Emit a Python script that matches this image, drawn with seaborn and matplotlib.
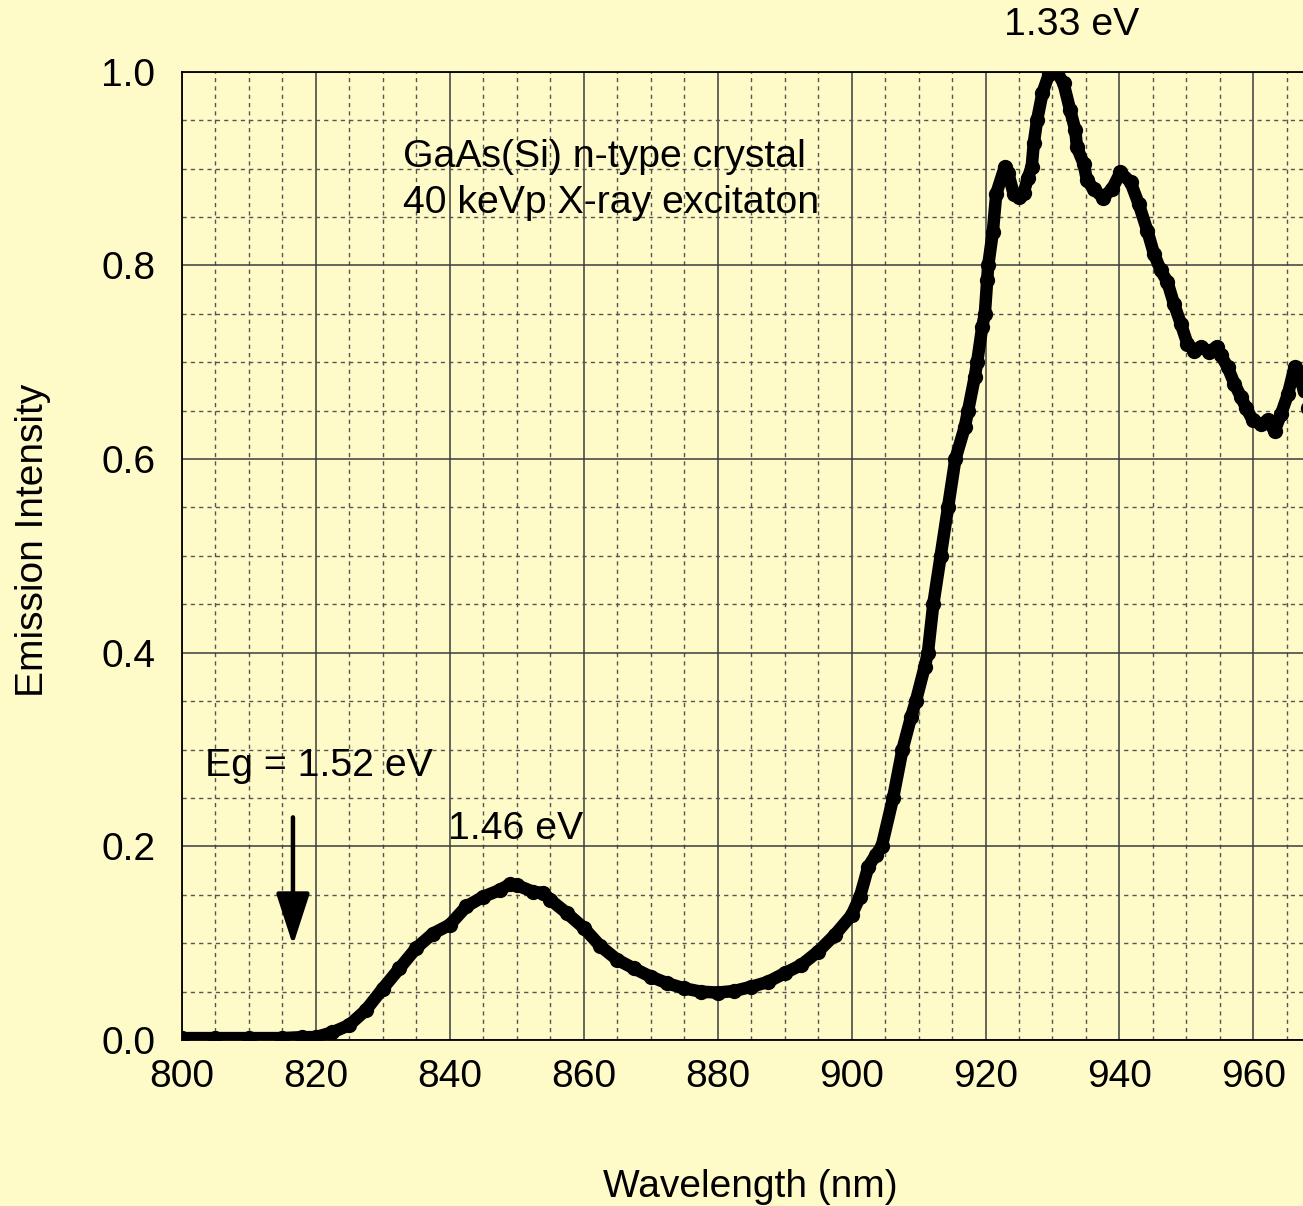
import numpy as np
import pandas as pd
import matplotlib
matplotlib.use("Agg")
import matplotlib.pyplot as plt
from matplotlib.ticker import MultipleLocator
import seaborn as sns

# Emission spectrum of Si-doped n-type GaAs under 40 keVp X-ray excitation
wavelength_nm = [
    800, 805, 810, 815, 818, 820, 822.5, 825, 827.5, 830, 832.5, 835, 837.5,
    840, 842.5, 845, 847.5, 849, 850, 852.5, 854, 855, 857.5, 860, 862.5,
    865, 867.5, 870, 872.5, 875, 877.5, 880, 882.5, 885, 887.5, 890, 892.5,
    895, 897.5, 900, 901.25, 902.5, 903.6, 904.5, 906.2, 907.6, 908.9, 909.6,
    910.9, 911.4, 912.2, 913.3, 914.4, 915.5, 916.9, 917.4, 918.4, 918.75,
    919.5, 919.9, 920.25, 920.4, 921.1, 921.6, 922.9, 923.4, 924.2, 925.0,
    925.7, 926.3, 926.9, 927.2, 927.7, 928.5, 929.5, 930.2, 930.65, 931.65,
    932.65, 933.4, 933.65, 934.65, 935.15, 936.15, 937.55, 938.9, 940.15,
    941.65, 942.9, 944.15, 945.15, 946.15, 947.15, 948.15, 949.15, 950.15,
    951.15, 952.15, 953.4, 954.5, 955.15, 956.15, 957.15, 958.15, 958.9,
    959.9, 961.15, 962.15, 963.15, 964.15, 965.15, 966.15, 967.15, 968.1,
]
intensity = [
    0.002, 0.002, 0.002, 0.002, 0.003, 0.003, 0.008, 0.0155, 0.031, 0.053,
    0.074, 0.095, 0.110, 0.119, 0.138, 0.148, 0.155, 0.161, 0.160, 0.153,
    0.152, 0.145, 0.131, 0.116, 0.097, 0.083, 0.074, 0.0655, 0.0586, 0.0534,
    0.050, 0.049, 0.0507, 0.055, 0.060, 0.069, 0.0776, 0.0914, 0.1086, 0.129,
    0.148, 0.179, 0.191, 0.200, 0.250, 0.300, 0.334, 0.350, 0.385, 0.400,
    0.450, 0.500, 0.550, 0.600, 0.633, 0.650, 0.685, 0.700, 0.736, 0.750,
    0.785, 0.800, 0.835, 0.874, 0.902, 0.895, 0.874, 0.871, 0.875, 0.890,
    0.902, 0.926, 0.950, 0.978, 0.998, 1.000, 1.000, 0.988, 0.960, 0.940,
    0.922, 0.905, 0.888, 0.879, 0.870, 0.879, 0.896, 0.886, 0.863, 0.836,
    0.812, 0.795, 0.783, 0.760, 0.740, 0.719, 0.712, 0.716, 0.711, 0.716,
    0.707, 0.695, 0.678, 0.664, 0.653, 0.640, 0.636, 0.640, 0.629, 0.647,
    0.667, 0.695, 0.681, 0.653,
]

x_ticks = [800, 820, 840, 860, 880, 900, 920, 940, 960]
y_ticks = [0.0, 0.2, 0.4, 0.6, 0.8, 1.0]

spectrum = pd.DataFrame({"Wavelength (nm)": wavelength_nm,
                         "Emission Intensity": intensity})

BG = "#FFFBC8"
sns.set_theme(style="white")
plt.rcParams["font.family"] = ["Liberation Sans", "DejaVu Sans"]
plt.rcParams["figure.facecolor"] = BG
plt.rcParams["axes.facecolor"] = BG

fig = plt.figure(figsize=(13.03, 12.06), dpi=100)
ax = fig.add_axes([0.1395, 0.1376, 0.8605, 0.8029])
ax.set_facecolor(BG)

sns.lineplot(data=spectrum, x="Wavelength (nm)", y="Emission Intensity",
             ax=ax, color="black", linewidth=9, marker="o", markersize=11,
             markeredgewidth=0, estimator=None, sort=False, zorder=5,
             solid_capstyle="round", solid_joinstyle="round")

ax.set_xlim(800, 967.4)
ax.set_ylim(0, 1.0)
ax.set_xticks(x_ticks)
ax.set_yticks(y_ticks)
ax.set_xticklabels([f"{v:d}" for v in x_ticks])
ax.set_yticklabels([f"{v:.1f}" for v in y_ticks])
ax.xaxis.set_minor_locator(MultipleLocator(5))
ax.yaxis.set_minor_locator(MultipleLocator(0.05))

# solid major grid, dashed minor grid
ax.grid(which="major", color="#3c3c3c", linewidth=1.1, linestyle="-", zorder=0)
ax.grid(which="minor", color="#555555", linewidth=1.0, linestyle=(0, (3, 3)),
        zorder=0)
ax.set_axisbelow(True)

ax.tick_params(axis="both", which="major", direction="in", length=13,
               width=1.1, color="black", labelsize=28, labelcolor="black")
ax.tick_params(axis="x", which="major", pad=14)
ax.tick_params(axis="y", which="major", pad=19)
ax.tick_params(axis="both", which="minor", length=0)

for side in ["top", "left", "bottom"]:
    ax.spines[side].set_visible(True)
    ax.spines[side].set_color("black")
    ax.spines[side].set_linewidth(1.3)
ax.spines["right"].set_visible(False)

ax.set_xlabel("Wavelength (nm)", fontsize=28, color="black")
ax.set_ylabel("Emission Intensity", fontsize=28, color="black")
ax.xaxis.set_label_coords(0.507, -0.133)
ax.yaxis.set_label_coords(-0.117, 0.516)

text_kw = dict(fontsize=28.3, color="black", zorder=6)
ax.text(833.0, 0.912, "GaAs(Si) n-type crystal", ha="left", va="center", **text_kw)
ax.text(833.0, 0.864, "40 keVp X-ray excitaton", ha="left", va="center", **text_kw)
ax.text(932.9, 1.048, "1.33 eV", ha="center", va="center", **text_kw)
ax.text(803.5, 0.283, "Eg = 1.52 eV", ha="left", va="center", **text_kw)
ax.text(849.9, 0.218, "1.46 eV", ha="center", va="center", **text_kw)

ax.annotate("", xy=(816.6, 0.098), xytext=(816.6, 0.230),
            arrowprops=dict(arrowstyle="-|>,head_length=0.8,head_width=0.26",
                            mutation_scale=40, lw=3.2, color="black",
                            shrinkA=0, shrinkB=0), zorder=6)

fig.savefig("out.png", dpi=100, facecolor=BG)
